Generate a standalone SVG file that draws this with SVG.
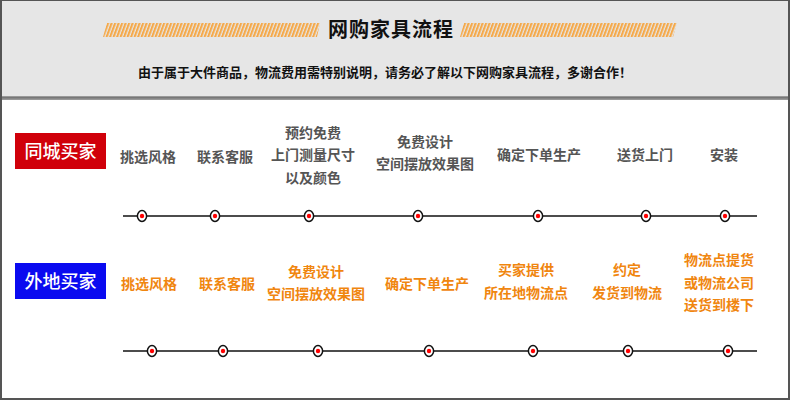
<svg xmlns="http://www.w3.org/2000/svg" width="790" height="400" viewBox="0 0 790 400">
<defs>
<pattern id="hatch" patternUnits="userSpaceOnUse" width="3.5" height="16" patternTransform="skewX(-20)">
<rect x="0" y="0" width="2.2" height="16" fill="#f5a94a"/>
</pattern>
<g id="dot">
<ellipse cx="0" cy="0" rx="4.6" ry="5.4" fill="#fff" stroke="#111" stroke-width="1.5"/>
<circle cx="0" cy="0" r="2.2" fill="#f00"/>
</g>
</defs>
<style>
.t{font-family:"Noto Sans CJK SC","Noto Sans",sans-serif;font-weight:bold;text-anchor:middle}
.g{fill:#555;font-size:14px}
.o{fill:#f0860f;font-size:14px}
.tag{fill:#fff;font-size:18px;font-weight:500}
.ln{stroke:#111;stroke-width:1.5}
</style>
<rect x="0" y="0" width="790" height="400" fill="#fff"/>
<g id="header">
<rect x="0" y="0" width="790" height="97" fill="#e6e6e6"/>
<rect x="0" y="96" width="790" height="4" fill="#999"/>
<rect x="0" y="97" width="790" height="1.5" fill="#777"/>
<polygon points="107,23 320,23 317,37 103,37" fill="url(#hatch)"/>
<polygon points="464,23 677,23 673,37 460,37" fill="url(#hatch)"/>
<text class="t" x="391" y="37" font-size="20" fill="#111" font-weight="900" letter-spacing="1">网购家具流程</text>
<text class="t" x="385" y="77" font-size="13" fill="#111" font-weight="900">由于属于大件商品，物流费用需特别说明，请务必了解以下网购家具流程，多谢合作！</text>
</g>
<g id="local-buyer">
<rect x="15" y="133" width="91" height="36" fill="#d0000a"/>
<text class="t tag" x="60.5" y="158">同城买家</text>
</g>
<g id="remote-buyer">
<rect x="15" y="263" width="91" height="36" fill="#0a0af0"/>
<text class="t tag" x="60.5" y="288">外地买家</text>
</g>
<g id="row1-labels">
<text class="t g" x="148" y="162">挑选风格</text>
<text class="t g" x="225" y="162">联系客服</text>
<text class="t g" x="313" y="138">预约免费</text>
<text class="t g" x="313" y="160">上门测量尺寸</text>
<text class="t g" x="313" y="183">以及颜色</text>
<text class="t g" x="425" y="147">免费设计</text>
<text class="t g" x="425" y="169">空间摆放效果图</text>
<text class="t g" x="539" y="160">确定下单生产</text>
<text class="t g" x="645" y="160">送货上门</text>
<text class="t g" x="724" y="160">安装</text>
</g>
<g id="row2-labels">
<text class="t o" x="149" y="289">挑选风格</text>
<text class="t o" x="227" y="289">联系客服</text>
<text class="t o" x="316" y="277">免费设计</text>
<text class="t o" x="316" y="299">空间摆放效果图</text>
<text class="t o" x="427" y="289">确定下单生产</text>
<text class="t o" x="526" y="275">买家提供</text>
<text class="t o" x="526" y="298">所在地物流点</text>
<text class="t o" x="627" y="275">约定</text>
<text class="t o" x="627" y="298">发货到物流</text>
<text class="t o" x="719" y="265">物流点提货</text>
<text class="t o" x="719" y="288">或物流公司</text>
<text class="t o" x="719" y="310">送货到楼下</text>
</g>
<g id="connectors">
<line class="ln" x1="123" y1="216" x2="757" y2="216"/>
<line class="ln" x1="123" y1="351" x2="757" y2="351"/>
<use href="#dot" x="142" y="216"/>
<use href="#dot" x="215" y="216"/>
<use href="#dot" x="309" y="216"/>
<use href="#dot" x="418" y="216"/>
<use href="#dot" x="538" y="216"/>
<use href="#dot" x="646" y="216"/>
<use href="#dot" x="725" y="216"/>
<use href="#dot" x="152" y="351"/>
<use href="#dot" x="223" y="351"/>
<use href="#dot" x="318" y="351"/>
<use href="#dot" x="429" y="351"/>
<use href="#dot" x="533" y="351"/>
<use href="#dot" x="628" y="351"/>
<use href="#dot" x="728" y="351"/>
</g>
<rect x="1" y="0" width="788" height="399" fill="none" stroke="#555" stroke-width="2"/>
</svg>
